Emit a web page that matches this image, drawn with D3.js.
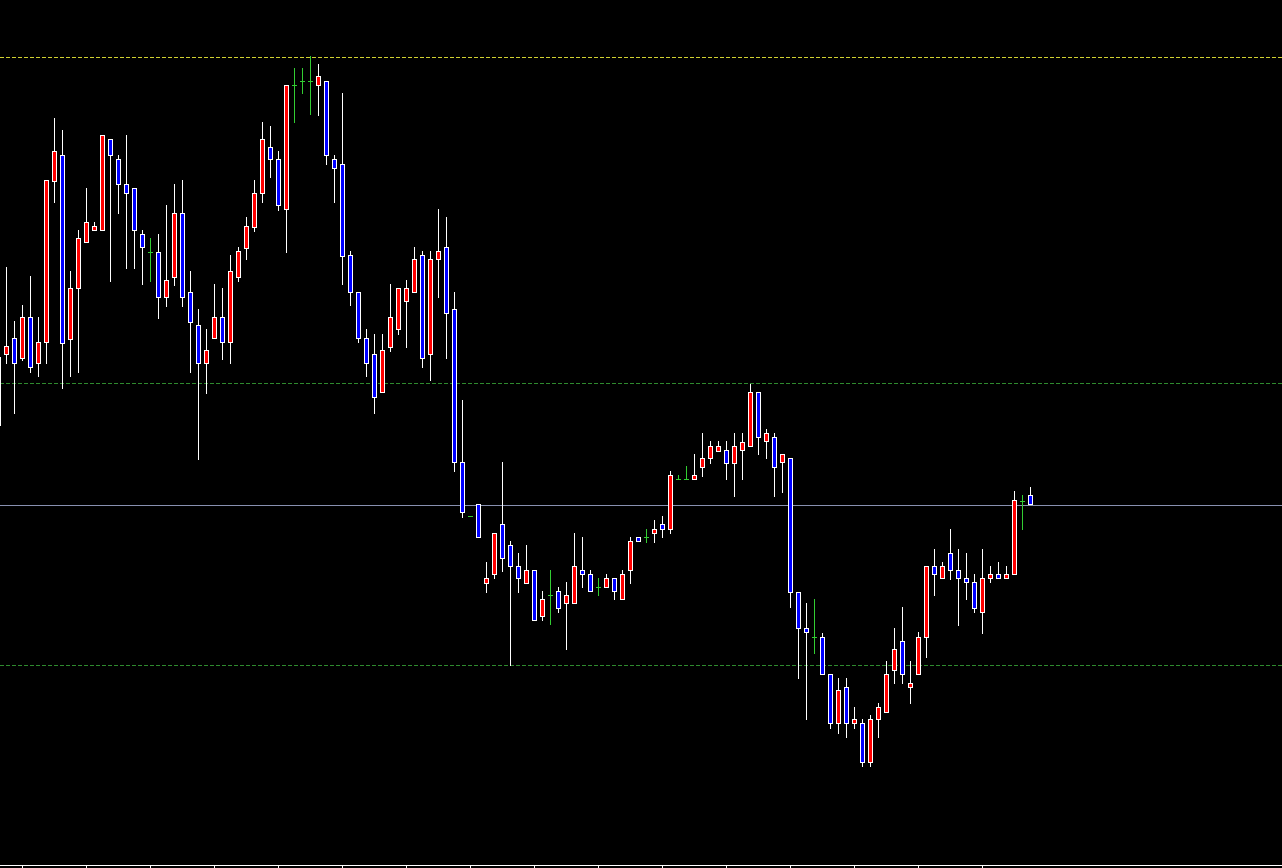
<!DOCTYPE html>
<html>
<head>
<meta charset="utf-8">
<script src="https://cdn.jsdelivr.net/npm/d3@7/dist/d3.min.js"></script>
<style>
  html, body { margin: 0; padding: 0; background: #000; overflow: hidden; }
  svg { display: block; }
</style>
</head>
<body>
<svg id="chart" width="1282" height="868"></svg>
<script>
// ---- data (bar index -1 .. 128) ----
const openP  = [1643,1646,1662,1642,1683,1637,1658,1819,1845,1661,1712,1758,1770,1770,1861,1841,1816,1812,1766,1748,1748,1703,1723,1787,1708,1675,1637,1662,1683,1658,1723,1752,1773,1807,1853,1841,1791,1915,1919,1919,1915,1919,1841,1836,1745,1708,1662,1646,1608,1653,1671,1699,1708,1745,1646,1741,1753,1691,1538,1484,1496,1417,1426,1476,1455,1434,1417,1430,1384,1405,1409,1397,1397,1430,1426,1413,1413,1422,1401,1430,1463,1463,1467,1476,1471,1521,1521,1521,1533,1542,1549,1550,1537,1550,1554,1608,1559,1563,1538,1542,1408,1372,1363,1363,1326,1277,1313,1277,1277,1238,1281,1288,1330,1359,1313,1326,1363,1434,1422,1447,1430,1422,1418,1388,1422,1426,1422,1426,1499,1505];
const highP  = [1650,1733,1679,1695,1724,1683,1820,1882,1870,1729,1770,1812,1778,1865,1861,1845,1865,1812,1770,1762,1766,1795,1816,1820,1729,1691,1671,1716,1712,1745,1753,1783,1820,1878,1874,1849,1915,1932,1932,1944,1936,1919,1845,1907,1749,1708,1671,1666,1666,1716,1712,1720,1753,1749,1749,1791,1783,1708,1600,1484,1496,1438,1467,1538,1459,1447,1455,1430,1409,1430,1413,1418,1467,1463,1430,1422,1426,1422,1430,1463,1463,1471,1480,1484,1529,1525,1534,1546,1567,1559,1559,1559,1567,1567,1616,1608,1571,1567,1546,1542,1408,1397,1401,1367,1326,1322,1322,1293,1281,1285,1297,1339,1372,1393,1339,1368,1434,1451,1438,1471,1451,1447,1426,1451,1434,1438,1434,1509,1505,1513];
const lowP   = [1570,1637,1587,1640,1628,1624,1637,1798,1612,1624,1628,1758,1770,1770,1719,1787,1732,1732,1716,1719,1682,1694,1715,1694,1628,1541,1607,1662,1641,1637,1719,1741,1769,1798,1823,1790,1748,1878,1907,1886,1885,1836,1798,1716,1695,1658,1624,1587,1608,1649,1666,1653,1708,1633,1620,1703,1642,1529,1483,1484,1463,1408,1422,1429,1335,1408,1417,1380,1380,1376,1388,1351,1397,1413,1409,1405,1413,1401,1401,1417,1459,1458,1458,1463,1467,1521,1521,1521,1524,1537,1549,1521,1504,1521,1554,1546,1542,1504,1508,1393,1322,1281,1347,1326,1272,1267,1263,1272,1234,1234,1263,1288,1317,1317,1297,1326,1343,1405,1422,1421,1375,1401,1388,1367,1418,1422,1422,1426,1471,1496];
const closeP = [1575,1654,1637,1683,1633,1658,1820,1849,1657,1712,1762,1778,1774,1865,1845,1816,1807,1770,1753,1748,1703,1720,1787,1703,1678,1637,1650,1683,1658,1729,1749,1774,1807,1861,1841,1795,1915,1915,1919,1919,1924,1845,1832,1744,1708,1662,1637,1603,1650,1683,1712,1712,1741,1642,1741,1749,1687,1538,1488,1484,1463,1422,1467,1442,1434,1422,1430,1380,1401,1405,1392,1405,1434,1426,1409,1413,1422,1409,1426,1459,1459,1463,1471,1471,1525,1521,1521,1525,1542,1554,1554,1537,1554,1558,1608,1563,1567,1533,1546,1408,1372,1368,1363,1326,1277,1310,1277,1281,1238,1281,1293,1326,1351,1326,1317,1363,1434,1426,1434,1430,1422,1418,1392,1422,1426,1422,1426,1500,1499,1496];
const firstIndex = -1;
const levelPrices = [1943, 1617, 1495, 1335];
const levelKinds  = ["resistance", "support", "price", "support"];
const axisTickBars = [2, 10, 18, 26, 34, 42, 50, 58, 66, 74, 82, 90, 98, 106, 114, 122];

// ---- build ----
const W = 1282, H = 868;
const bars = openP.map((o, k) => ({
  i: firstIndex + k, o, h: highP[k], l: lowP[k], c: closeP[k]
}));

const svg = d3.select("#chart");
svg.append("rect").attr("width", W).attr("height", H).attr("fill", "#000");

const x = d3.scaleLinear().domain([-1, 128]).range([-2, 1030]);
const y = d3.scaleLinear().domain([1135, 2000]).range([865, 0]);
const px = v => Math.round(v) + 0.5;

// level lines
const levelStyle = {
  resistance: { stroke: "#d0d030", dash: "4,2" },
  support:    { stroke: "#2e8a2e", dash: "4,2" },
  price:      { stroke: "#8890b0", dash: null }
};
const lv = svg.append("g").attr("shape-rendering", "crispEdges");
levelPrices.forEach((p, k) => {
  const st = levelStyle[levelKinds[k]];
  lv.append("line")
    .attr("x1", 0).attr("x2", W)
    .attr("y1", px(y(p))).attr("y2", px(y(p)))
    .attr("stroke", st.stroke).attr("stroke-width", 1)
    .attr("stroke-dasharray", st.dash);
});

// candles
const up = "#ff0000", down = "#0000ff", doji = "#32cd32";
const g = svg.append("g").attr("shape-rendering", "crispEdges");
bars.forEach(b => {
  const cx = Math.round(x(b.i));
  const isDoji = b.o === b.c;
  const wickColor = isDoji ? doji : "#ffffff";
  if (b.h !== b.l) {
    g.append("line")
      .attr("x1", cx + 0.5).attr("x2", cx + 0.5)
      .attr("y1", Math.round(y(b.h))).attr("y2", Math.round(y(b.l)) + 1)
      .attr("stroke", wickColor).attr("stroke-width", 1);
  }
  if (isDoji) {
    g.append("line")
      .attr("x1", cx - 2).attr("x2", cx + 3)
      .attr("y1", px(y(b.o))).attr("y2", px(y(b.o)))
      .attr("stroke", doji).attr("stroke-width", 1);
  } else {
    const top = Math.round(y(Math.max(b.o, b.c)));
    const bot = Math.round(y(Math.min(b.o, b.c)));
    g.append("rect")
      .attr("x", cx - 2 + 0.5).attr("y", top + 0.5)
      .attr("width", 4).attr("height", Math.max(1, bot - top))
      .attr("fill", b.c > b.o ? up : down)
      .attr("stroke", "#ffffff").attr("stroke-width", 1);
  }
});

// bottom axis
const axisG = svg.append("g")
  .attr("transform", "translate(0,865)")
  .attr("shape-rendering", "crispEdges")
  .call(d3.axisBottom(x).tickValues(axisTickBars).tickSize(3).tickFormat(""));
axisG.select(".domain").remove();
axisG.selectAll(".tick line").attr("stroke", "#ffffff");
svg.append("line")
  .attr("x1", 0).attr("x2", W).attr("y1", 865.5).attr("y2", 865.5)
  .attr("stroke", "#ffffff").attr("stroke-width", 1)
  .attr("shape-rendering", "crispEdges");
</script>
</body>
</html>
